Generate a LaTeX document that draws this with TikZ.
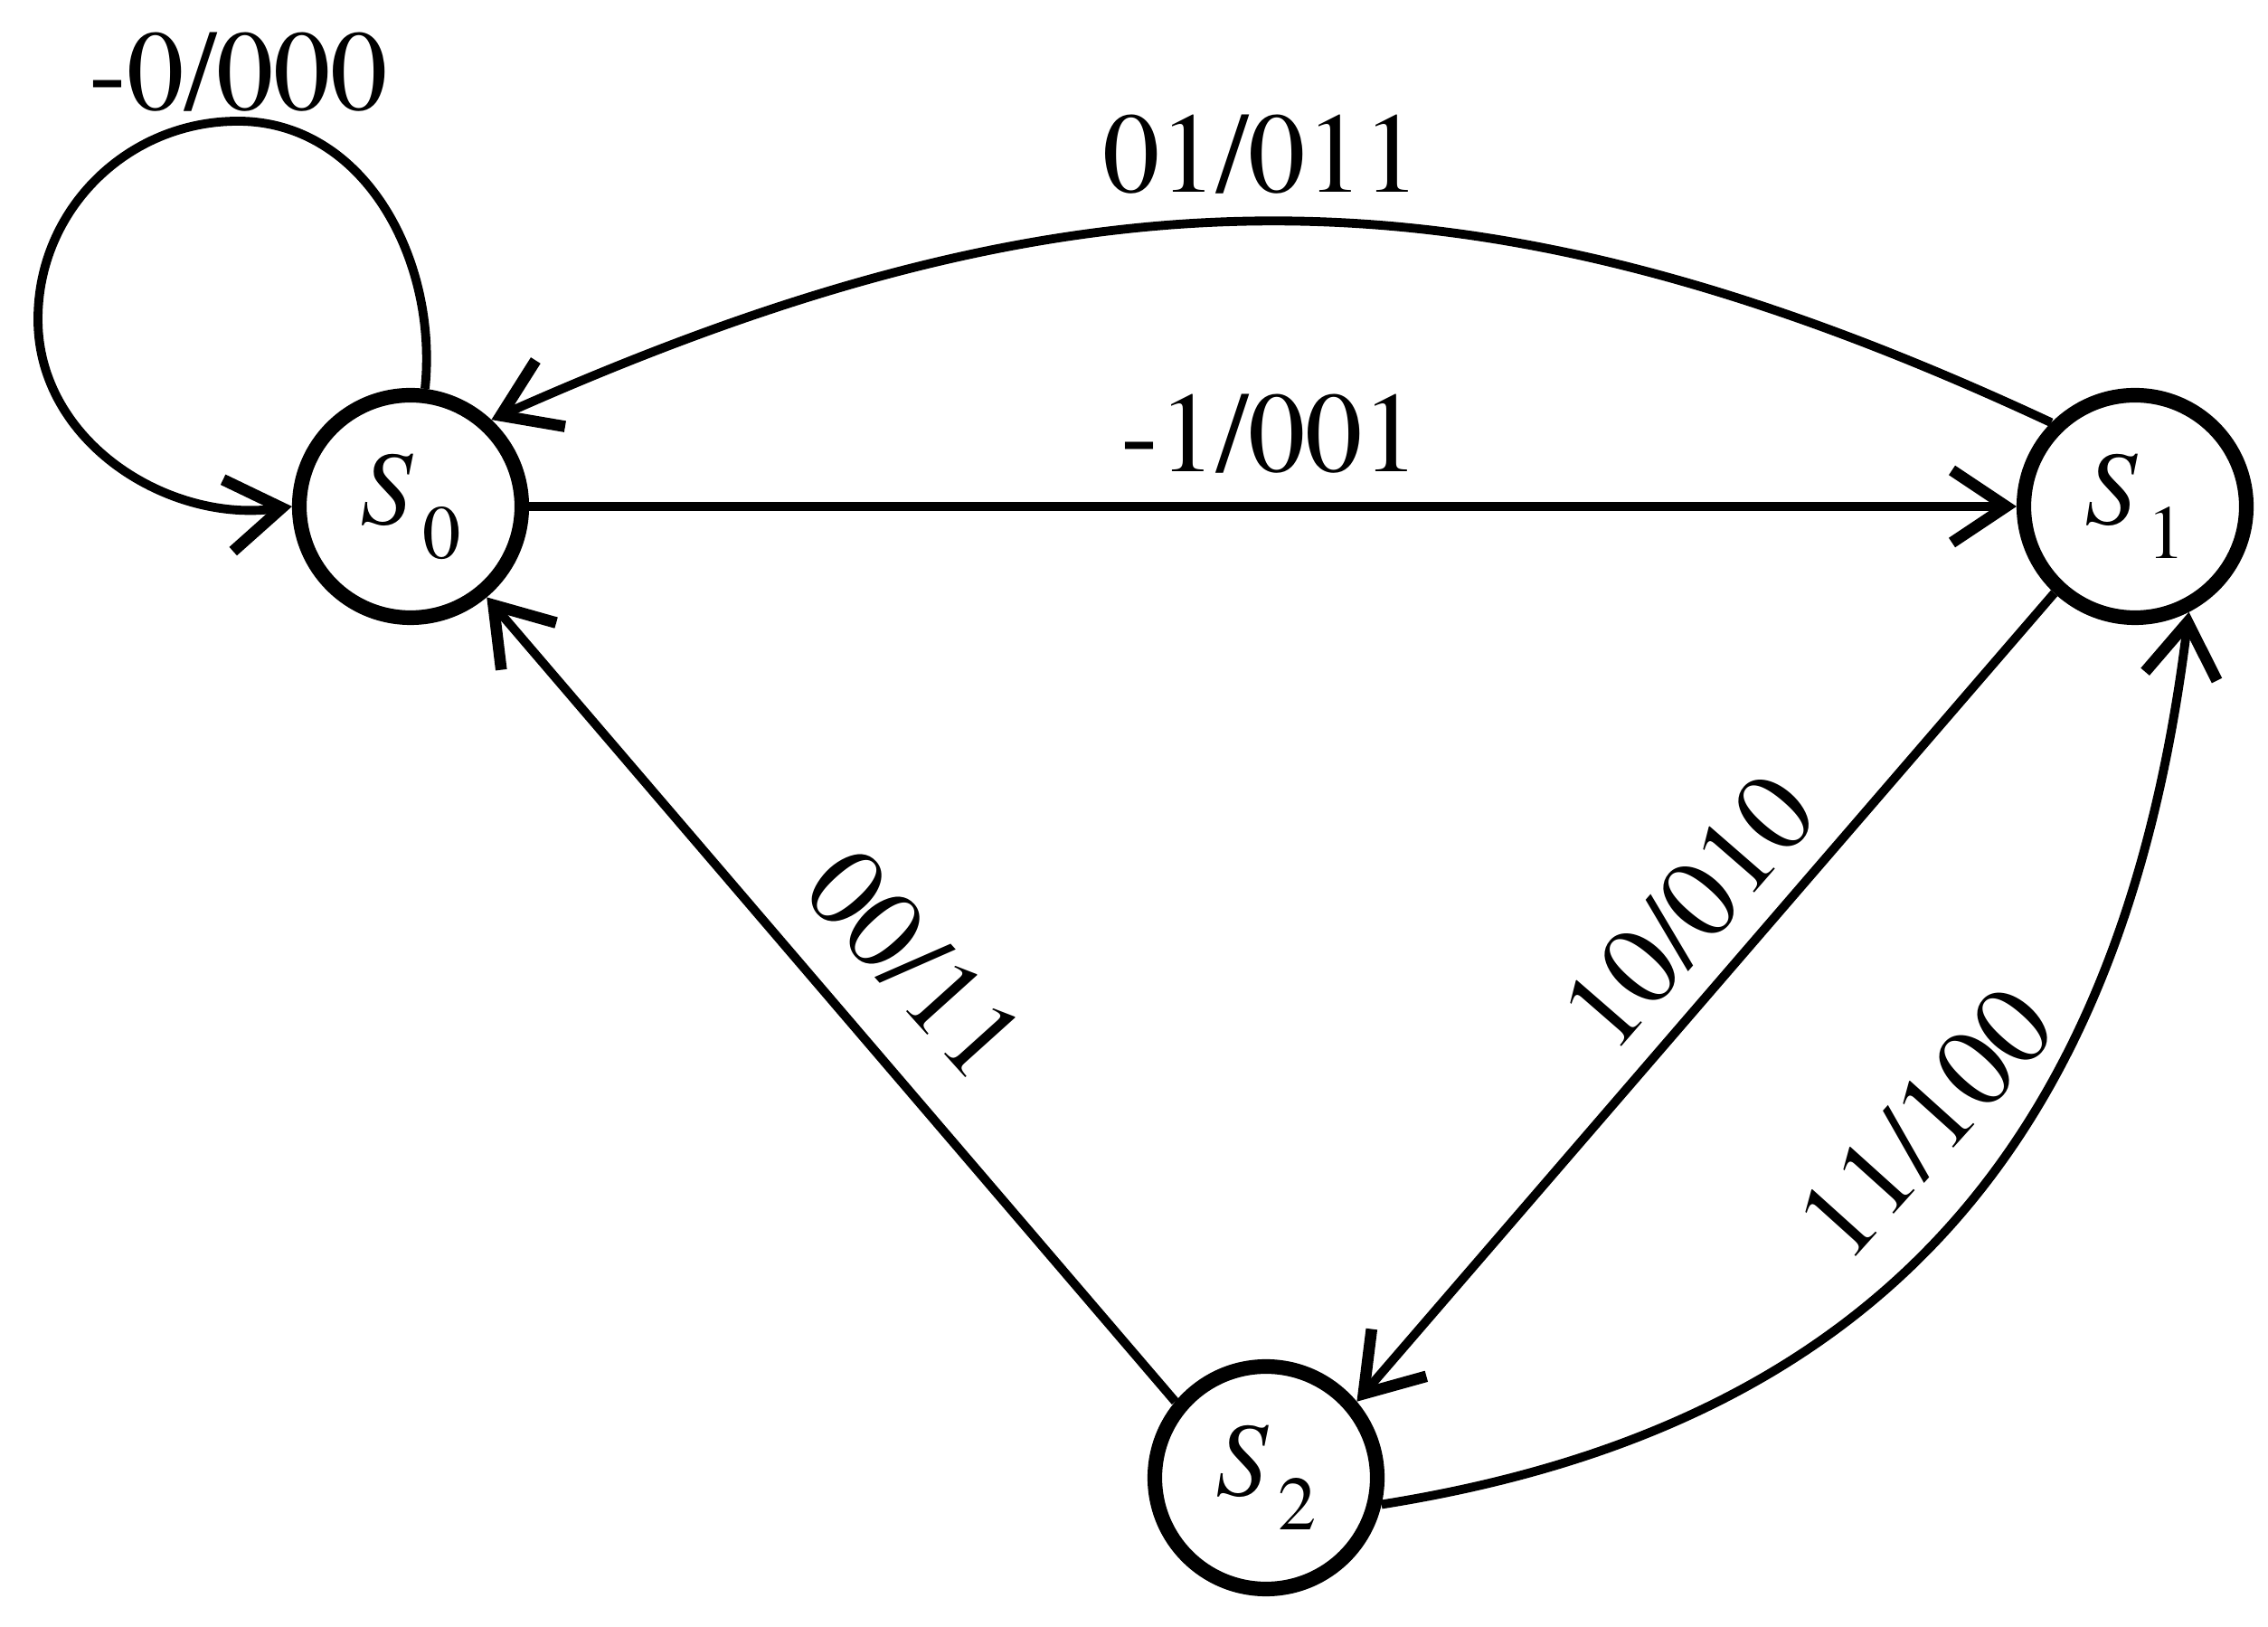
\documentclass[tikz,border=0pt]{standalone}
\usepackage{fontspec}
\setmainfont{texgyretermes}[Extension=.otf, UprightFont=*-regular,
  ItalicFont=*-italic, BoldFont=*-bold, BoldItalicFont=*-bolditalic]
\usetikzlibrary{arrows.meta}

\newcommand{\stname}[1]{{\fontsize{33}{36}\selectfont\itshape S}\kern3pt%
  \raisebox{-0.38cm}{\fontsize{24}{24}\selectfont #1}}

\begin{document}
\begin{tikzpicture}[
    state/.style={circle, draw, line width=4.6pt, minimum size=2.46cm, inner sep=0pt},
    trans/.style={line width=2.8pt,
        -{Straight Barb[length=6mm, width=8mm, line width=3.6pt]}},
    lbl/.style={font=\fontsize{36}{40}\selectfont, inner sep=0pt}
  ]

  \useasboundingbox (0,0) rectangle (25.08,17.98);

  % states
  \node[state] (s0) at (4.54,12.38) {\stname{0}};
  \node[state] (s1) at (23.61,12.38) {\stname{1}};
  \node[state] (s2) at (14.00,1.64) {\stname{2}};

  % transitions
  \draw[trans] (s0.83) to[out=84,in=0] (2.63,16.64) to[out=180,in=90] (0.42,14.45)
    to[out=-90,in=188] (s0.180);
  \draw[trans] (s1.135) to[out=155,in=24,looseness=1.05] (s0.47);
  \draw[trans] (s0) -- (s1);
  \draw[trans] (s1.227) -- (s2.40);
  \draw[trans] (s2.140) -- (s0.-50);
  \draw[trans] (s2.-13) to[out=9,in=-97,looseness=1.1] (s1.-63);

  % labels
  \node[lbl] (l00) at (2.64,17.18) {-0/000};
  \node[lbl] (l01) at (13.95,16.27) {01/011};
  \node[lbl] (l1) at (14.05,13.18) {-1/001};
  \node[lbl, rotate=49] (l10) at (18.67,7.90) {10/010};
  \node[lbl, rotate=-48] (l00b) at (10.12,7.32) {00/11};
  \node[lbl, rotate=48] (l11) at (21.29,5.56) {11/100};
\end{tikzpicture}
\end{document}
